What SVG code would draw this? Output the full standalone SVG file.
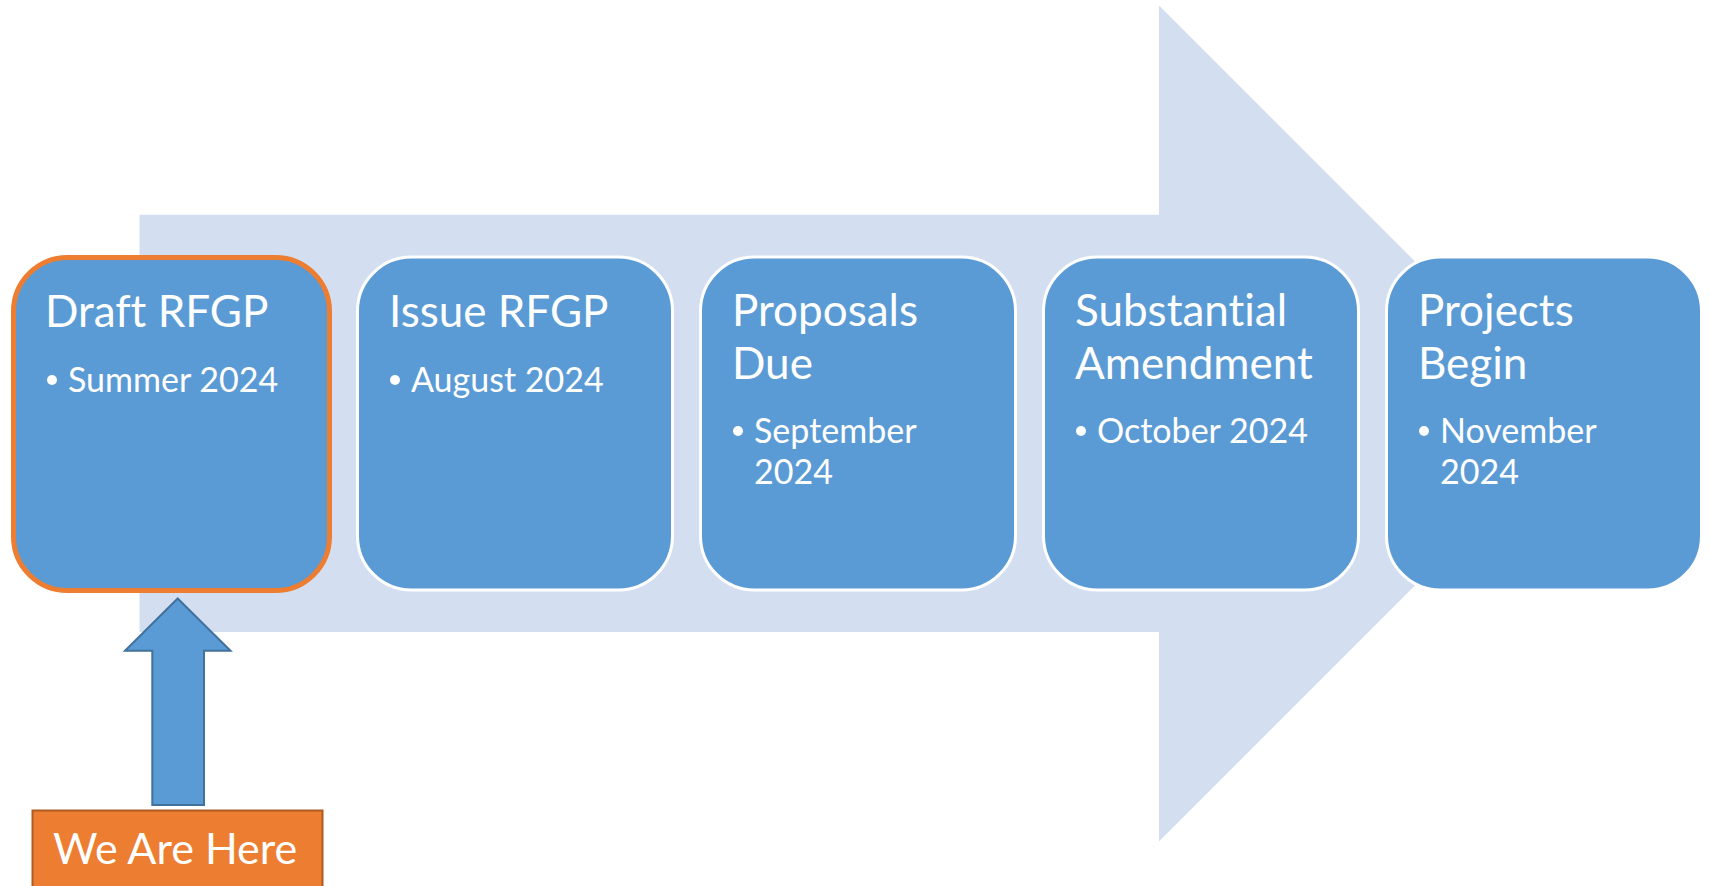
<svg xmlns="http://www.w3.org/2000/svg" width="1709" height="886" viewBox="0 0 1709 886">
<style>
.box{fill:#5B9BD5;stroke:#FFFFFF;stroke-width:3}
.cur{fill:#5B9BD5;stroke:#ED7D31;stroke-width:5}
.t{font-family:Lato,"Open Sans",sans-serif;fill:#FFFFFF;font-variant-ligatures:none}
.h{font-size:44px}
.b{font-size:34px}
.dot{fill:#FFFFFF}
</style>
<rect x="0" y="0" width="1709" height="886" fill="#FFFFFF"/>
<g id="timeline-arrow">
<polygon points="139.5,214.7 1159,214.7 1159,5.5 1577,423.4 1159,841.5 1159,632 139.5,632" fill="#D3DFF0"/>
</g>
<g id="node-draft">
<rect class="cur" x="13.5" y="257.5" width="316" height="333" rx="54"/>
<text class="t h" x="45" y="327">Draft RFGP</text>
<circle class="dot" cx="52" cy="380" r="5"/>
<text class="t b" x="68" y="392">Summer 2024</text>
</g>
<g id="node-issue">
<rect class="box" x="357.5" y="257" width="315" height="333" rx="54"/>
<text class="t h" x="389" y="327">Issue RFGP</text>
<circle class="dot" cx="395" cy="380" r="5"/>
<text class="t b" x="411" y="392">August 2024</text>
</g>
<g id="node-proposals">
<rect class="box" x="700.5" y="257" width="315" height="333" rx="54"/>
<text class="t h" x="732" y="326">Proposals</text>
<text class="t h" x="732" y="379">Due</text>
<circle class="dot" cx="738" cy="431" r="5"/>
<text class="t b" x="754" y="443">September</text>
<text class="t b" x="754" y="484">2024</text>
</g>
<g id="node-amendment">
<rect class="box" x="1043.5" y="257" width="315" height="333" rx="54"/>
<text class="t h" x="1075" y="326">Substantial</text>
<text class="t h" x="1075" y="379">Amendment</text>
<circle class="dot" cx="1081" cy="431" r="5"/>
<text class="t b" x="1097" y="443">October 2024</text>
</g>
<g id="node-projects">
<rect class="box" x="1386.5" y="257" width="315" height="333" rx="54"/>
<text class="t h" x="1418" y="326">Projects</text>
<text class="t h" x="1418" y="379">Begin</text>
<circle class="dot" cx="1424" cy="431" r="5"/>
<text class="t b" x="1440" y="443">November</text>
<text class="t b" x="1440" y="484">2024</text>
</g>
<g id="connectors">
<polygon points="177.7,598.5 230.5,650.7 204,650.7 204,805 152.3,805 152.3,650.7 125,650.7" fill="#5B9BD5" stroke="#41719C" stroke-width="2"/>
</g>
<g id="node-here">
<rect x="32.5" y="810.5" width="290" height="90" fill="#ED7D31" stroke="#AE5A21" stroke-width="2"/>
<text class="t" x="53" y="864" font-size="43">We Are Here</text>
</g>
</svg>
